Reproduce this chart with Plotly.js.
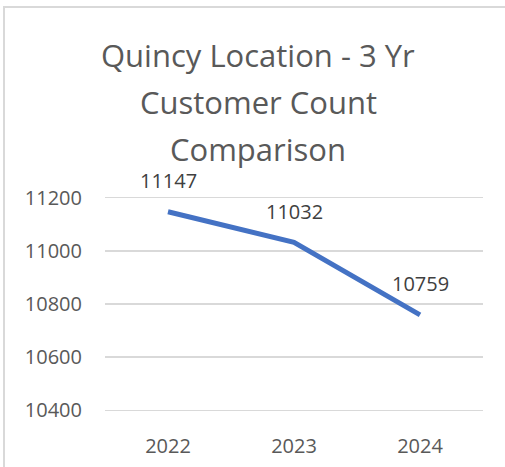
<!DOCTYPE html>
<html>
<head>
<meta charset="utf-8">
<script src="https://cdn.plot.ly/plotly-3.0.1.min.js"></script>
<style>
  html, body { margin: 0; padding: 0; background: #fff; }
  #wrap { position: relative; width: 505px; height: 467px; }
  #chart { position: absolute; left: 0; top: 0; width: 505px; height: 467px; }
  #frame { position: absolute; left: 3px; top: 6px; width: 520px; height: 480px;
           border-left: 2px solid #d9d9d9; border-top: 2px solid #d9d9d9; pointer-events: none; }
</style>
</head>
<body>
<div id="wrap">
  <div id="chart"></div>
  <div id="frame"></div>
</div>
<script>
const years = ['2022', '2023', '2024'];
const customers = [11147, 11032, 10759];
const yTicks = [10400, 10600, 10800, 11000, 11200];
const titleLines = ['Quincy Location - 3 Yr', 'Customer Count', 'Comparison'];

const font = 'Open Sans, Noto Sans, sans-serif';

const trace = {
  x: years,
  y: customers,
  type: 'scatter',
  mode: 'lines',
  line: { color: '#4472C4', width: 5 },
  hoverinfo: 'skip'
};

const labelAnnotations = years.map((yr, i) => ({
  x: i, y: customers[i], xref: 'x', yref: 'y',
  text: String(customers[i]), showarrow: false,
  yshift: 31,
  font: { family: font, size: 20, color: '#404040' }
}));

const titleShifts = [140, 93, 46];
const titleAnnotations = titleLines.map((t, i) => ({
  x: 0.405, y: 1, xref: 'paper', yref: 'paper',
  xanchor: 'center', yanchor: 'middle',
  yshift: titleShifts[i],
  text: t, showarrow: false,
  font: { family: font, size: 31, color: '#595959' }
}));

const layout = {
  width: 505, height: 467,
  margin: { l: 105, r: 22, t: 195, b: 54 },
  paper_bgcolor: '#ffffff', plot_bgcolor: '#ffffff',
  showlegend: false,
  xaxis: {
    type: 'category', range: [-0.5, 2.5],
    showgrid: false, zeroline: false, showline: false, ticks: '',
    tickfont: { family: font, size: 20, color: '#595959' },
    ticklabelstandoff: 19
  },
  yaxis: {
    range: [10390, 11210], tickvals: yTicks, ticktext: yTicks.map(String),
    showgrid: true, gridcolor: '#d9d9d9', gridwidth: 1.5,
    zeroline: false, showline: false, ticks: '',
    tickfont: { family: font, size: 20, color: '#595959' },
    ticklabelstandoff: 22
  },
  annotations: titleAnnotations.concat(labelAnnotations)
};

Plotly.newPlot('chart', [trace], layout, { displayModeBar: false, staticPlot: true });
</script>
</body>
</html>
